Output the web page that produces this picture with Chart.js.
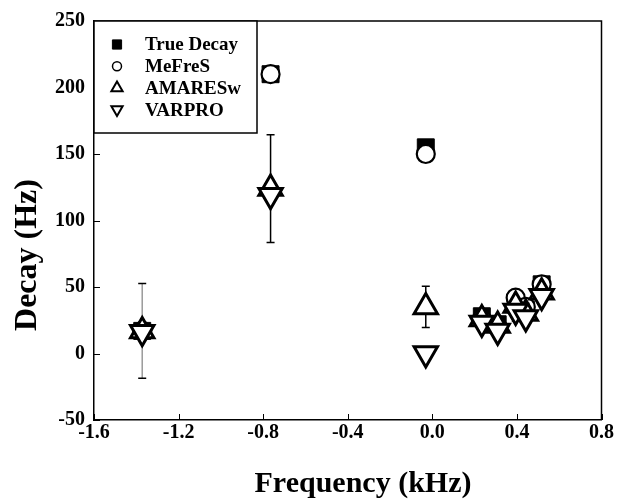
<!DOCTYPE html>
<html>
<head>
<meta charset="utf-8">
<script src="https://cdn.jsdelivr.net/npm/chart.js@4.4.0/dist/chart.umd.min.js"></script>
<style>
  html, body { margin: 0; padding: 0; background: #fff; }
  #wrap { width: 618px; height: 502px; }
</style>
</head>
<body>
<div id="wrap"><canvas id="chart" width="618" height="502"></canvas></div>
<script>
// Resonance frequencies (kHz)
const freq = [-1.372, -0.765, -0.031, 0.234, 0.309, 0.394, 0.442, 0.517];

// Decay (Hz) per method
const trueDecay = [17, 210, 155, 28, 22, 37, 33, 52];
const mefres    = [17, 210, 150, 26, 20, 42, 35, 52];
const amaresw   = [17, 124, 35, 26, 21, 36, 30, 46];
const varpro    = [16, 119, 0, 23, 17, 32, 27, 43];

// AMARESw error bars (Hz)
const amareswErr = [35.6, 40.5, 15.5, 0, 0, 0, 0, 0];

const seriesLabels = ['True Decay', 'MeFreS', 'AMARESw', 'VARPRO'];
const xTicks = [-1.6, -1.2, -0.8, -0.4, 0.0, 0.4, 0.8];
const yTicks = [-50, 0, 50, 100, 150, 200, 250];

const FONT = '"Liberation Serif", "Times New Roman", serif';

function pts(ys) {
  return freq.map((x, i) => ({ x: x, y: ys[i] }));
}

// legend drawn inside the plot, top-left
const legendBox = {
  id: 'legendBox',
  afterDraw(chart) {
    const ctx = chart.ctx;
    const area = chart.chartArea;
    const left = area.left, top = area.top;
    const w = 163, h = 112;
    ctx.save();
    ctx.fillStyle = '#fff';
    ctx.fillRect(left, top, w, h);
    ctx.strokeStyle = '#000';
    ctx.lineWidth = 1.5;
    ctx.strokeRect(left, top, w, h);
    const mk = [
      { pointStyle: 'rect', radius: 6.5, rotation: 0, borderWidth: 1 },
      { pointStyle: 'circle', radius: 4.5, rotation: 0, borderWidth: 1.5 },
      { pointStyle: 'triangle', radius: 6.5, rotation: 0, borderWidth: 2 },
      { pointStyle: 'triangle', radius: 6.5, rotation: 180, borderWidth: 2 }
    ];
    ctx.font = 'bold 19px ' + FONT;
    ctx.textBaseline = 'middle';
    ctx.textAlign = 'left';
    chart.data.datasets.forEach((ds, i) => {
      const y = top + 23.5 + i * 21.7;
      ctx.fillStyle = ds.pointBackgroundColor;
      ctx.strokeStyle = '#000';
      ctx.lineWidth = mk[i].borderWidth;
      Chart.helpers.drawPoint(ctx, mk[i], left + 23, y);
      ctx.fillStyle = '#000';
      ctx.fillText(ds.label, left + 51, y + 1);
    });
    ctx.restore();
  }
};

// error bars under the markers, inward ticks, frame and axis titles
const decor = {
  id: 'decor',
  beforeDatasetsDraw(chart) {
    const ctx = chart.ctx;
    const xs = chart.scales.x, ys = chart.scales.y;
    const barColors = ['#9a9a9a', '#000', '#000', '#000', '#000', '#000', '#000', '#000'];
    ctx.save();
    ctx.lineWidth = 1.5;
    amareswErr.forEach((e, i) => {
      if (!e) return;
      const x = xs.getPixelForValue(freq[i]);
      const y1 = ys.getPixelForValue(amaresw[i] + e);
      const y2 = ys.getPixelForValue(amaresw[i] - e);
      ctx.strokeStyle = barColors[i];
      ctx.beginPath();
      ctx.moveTo(x, y1); ctx.lineTo(x, y2);
      ctx.stroke();
      ctx.strokeStyle = '#000';
      ctx.beginPath();
      ctx.moveTo(x - 4, y1); ctx.lineTo(x + 4, y1);
      ctx.moveTo(x - 4, y2); ctx.lineTo(x + 4, y2);
      ctx.stroke();
    });
    ctx.restore();
  },
  afterDraw(chart) {
    const ctx = chart.ctx;
    const a = chart.chartArea;
    const xs = chart.scales.x, ys = chart.scales.y;
    ctx.save();
    ctx.strokeStyle = '#000';
    ctx.lineWidth = 1.5;
    ctx.beginPath();
    ctx.moveTo(a.left, a.top); ctx.lineTo(a.right, a.top); ctx.lineTo(a.right, a.bottom);
    ctx.stroke();
    ctx.lineWidth = 1;
    ctx.beginPath();
    xTicks.forEach(v => {
      const x = Math.round(xs.getPixelForValue(v)) + 0.5;
      ctx.moveTo(x, a.bottom); ctx.lineTo(x, a.bottom - 6);
    });
    yTicks.forEach(v => {
      const y = Math.round(ys.getPixelForValue(v)) + 0.5;
      ctx.moveTo(a.left, y); ctx.lineTo(a.left + 6, y);
    });
    ctx.stroke();

    ctx.fillStyle = '#000';
    ctx.font = 'bold 30px ' + FONT;
    ctx.textAlign = 'center';
    ctx.textBaseline = 'middle';
    ctx.fillText('Frequency (kHz)', 363, 484);
    ctx.font = 'bold 32px ' + FONT;
    ctx.translate(28, 255);
    ctx.rotate(-Math.PI / 2);
    ctx.fillText('Decay (Hz)', 0, 0);
    ctx.restore();
  }
};

const markerBase = {
  showLine: false,
  pointBorderColor: '#000',
  pointHoverRadius: 0
};

new Chart(document.getElementById('chart'), {
  type: 'scatter',
  data: {
    datasets: [
      Object.assign({}, markerBase, {
        label: seriesLabels[0], data: pts(trueDecay), order: 4,
        pointStyle: 'rect', pointRadius: 12, pointBorderWidth: 1,
        pointBackgroundColor: '#000'
      }),
      Object.assign({}, markerBase, {
        label: seriesLabels[1], data: pts(mefres), order: 3,
        pointStyle: 'circle', pointRadius: 9, pointBorderWidth: 2.2,
        pointBackgroundColor: '#fff'
      }),
      Object.assign({}, markerBase, {
        label: seriesLabels[2], data: pts(amaresw), order: 2,
        pointStyle: 'triangle', pointRadius: 13.5, pointBorderWidth: 3,
        pointBackgroundColor: '#fff'
      }),
      Object.assign({}, markerBase, {
        label: seriesLabels[3], data: pts(varpro), order: 1,
        pointStyle: 'triangle', pointRotation: 180, pointRadius: 13.5, pointBorderWidth: 3,
        pointBackgroundColor: '#fff'
      })
    ]
  },
  options: {
    responsive: false,
    animation: false,
    layout: { padding: { left: 0, right: 15, top: 18, bottom: 0 } },
    plugins: {
      legend: { display: false },
      tooltip: { enabled: false }
    },
    scales: {
      x: {
        type: 'linear',
        min: -1.6,
        max: 0.8,
        afterBuildTicks: scale => { scale.ticks = xTicks.map(v => ({ value: v })); },
        afterFit: scale => { scale.height = 82; },
        ticks: {
          color: '#000',
          padding: 1,
          maxRotation: 0,
          font: { family: FONT, size: 20, weight: 'bold' },
          callback: v => v.toFixed(1)
        },
        grid: { display: false, drawTicks: false },
        border: { display: true, color: '#000', width: 1.5 }
      },
      y: {
        type: 'linear',
        min: -50,
        max: 250,
        afterBuildTicks: scale => { scale.ticks = yTicks.map(v => ({ value: v })); },
        afterFit: scale => { scale.width = 94; },
        ticks: {
          color: '#000',
          padding: 9,
          font: { family: FONT, size: 20, weight: 'bold' },
          callback: v => String(v)
        },
        grid: { display: false, drawTicks: false },
        border: { display: true, color: '#000', width: 1.5 }
      }
    }
  },
  plugins: [decor, legendBox]
});
</script>
</body>
</html>
